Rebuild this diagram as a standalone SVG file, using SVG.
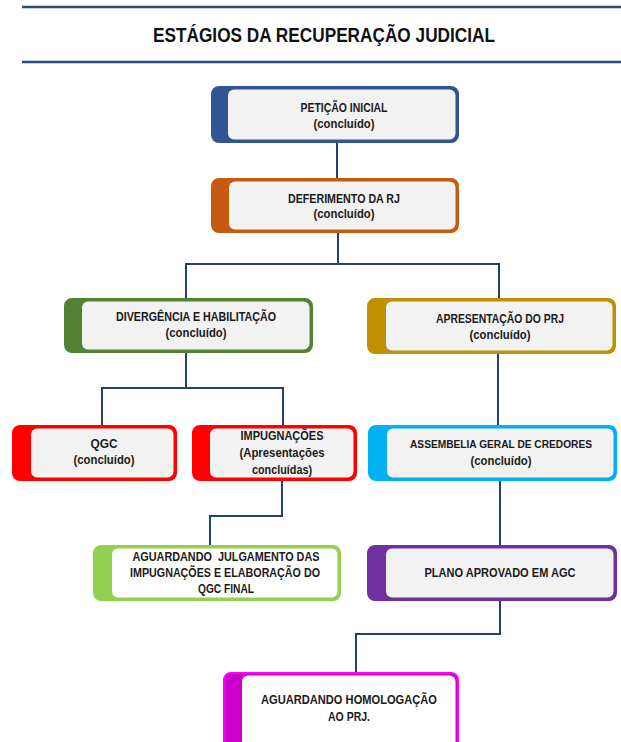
<svg xmlns="http://www.w3.org/2000/svg" width="621" height="742" viewBox="0 0 621 742">
<defs>
<style>
.bg{fill:#ffffff}
.rule{stroke:#2e4a7d;stroke-width:2.5;fill:none}
.conn{stroke:#243f73;stroke-width:2;fill:none}
.inner{fill:#f2f2f2}
.innerw{fill:#ffffff}
text{font-family:"Liberation Sans",Arial,sans-serif;font-weight:bold;fill:#1a1a1a;text-anchor:middle}
.t{font-size:12px}
.ts{font-size:11.5px}
.title{font-size:20px;fill:#111}
</style>
</defs>
<rect class="bg" x="0" y="0" width="621" height="742"/>
<g id="header">
<line class="rule" x1="22" y1="7" x2="621" y2="7"/>
<line class="rule" x1="22" y1="62" x2="621" y2="62"/>
<text class="title" x="324" y="42" textLength="342" lengthAdjust="spacingAndGlyphs">ESTÁGIOS DA RECUPERAÇÃO JUDICIAL</text>
</g>
<g id="connectors">
<path class="conn" d="M337 142 V179"/>
<path class="conn" d="M338 232 V264 M186 299 V264 H499 V299"/>
<path class="conn" d="M186 352 V388 M102 426 V388 H283 V426"/>
<path class="conn" d="M498 353 V426"/>
<path class="conn" d="M282 480 V516 H210 V546"/>
<path class="conn" d="M500 480 V546"/>
<path class="conn" d="M500 600 V634 H356 V673"/>
</g>
<g id="n-peticao">
<rect x="212" y="87" width="246" height="55" rx="7" fill="#2f5597" stroke="#2f5597" stroke-width="2"/>
<rect class="inner" x="228" y="89.5" width="227.5" height="50" rx="6"/>
<text class="t" x="344" y="112" textLength="87" lengthAdjust="spacingAndGlyphs">PETIÇÃO INICIAL</text>
<text class="t" x="344" y="128" textLength="61" lengthAdjust="spacingAndGlyphs">(concluído)</text>
</g>
<g id="n-deferimento">
<rect x="212" y="179" width="246" height="53" rx="7" fill="#c55a11" stroke="#c55a11" stroke-width="2"/>
<rect class="inner" x="229" y="181.5" width="226.5" height="48" rx="6"/>
<text class="t" x="344" y="203" textLength="112" lengthAdjust="spacingAndGlyphs">DEFERIMENTO DA RJ</text>
<text class="t" x="344" y="218" textLength="61" lengthAdjust="spacingAndGlyphs">(concluído)</text>
</g>
<g id="n-divergencia">
<rect x="65" y="299" width="247" height="53" rx="7" fill="#548235" stroke="#548235" stroke-width="2"/>
<rect class="inner" x="82" y="301.5" width="227.5" height="48" rx="6"/>
<text class="t" x="196" y="321" textLength="160" lengthAdjust="spacingAndGlyphs">DIVERGÊNCIA E HABILITAÇÃO</text>
<text class="t" x="196" y="337" textLength="61" lengthAdjust="spacingAndGlyphs">(concluído)</text>
</g>
<g id="n-apresentacao">
<rect x="368" y="299" width="247" height="54" rx="7" fill="#bf9000" stroke="#bf9000" stroke-width="2"/>
<rect class="inner" x="386" y="301.5" width="226.5" height="49" rx="6"/>
<text class="t" x="500" y="323" textLength="128" lengthAdjust="spacingAndGlyphs">APRESENTAÇÃO DO PRJ</text>
<text class="t" x="500" y="339" textLength="61" lengthAdjust="spacingAndGlyphs">(concluído)</text>
</g>
<g id="n-qgc">
<rect x="13" y="426" width="163" height="54" rx="7" fill="#ff0000" stroke="#ff0000" stroke-width="2"/>
<rect class="inner" x="31" y="428.5" width="142.5" height="49" rx="6"/>
<text class="t" x="104" y="448" textLength="27" lengthAdjust="spacingAndGlyphs">QGC</text>
<text class="t" x="104" y="464" textLength="61" lengthAdjust="spacingAndGlyphs">(concluído)</text>
</g>
<g id="n-impugnacoes">
<rect x="193" y="426" width="163" height="54" rx="7" fill="#ff0000" stroke="#ff0000" stroke-width="2"/>
<rect class="inner" x="210" y="428.5" width="143.5" height="49" rx="6"/>
<text class="t" x="282" y="440" textLength="83" lengthAdjust="spacingAndGlyphs">IMPUGNAÇÕES</text>
<text class="t" x="282" y="457" textLength="85" lengthAdjust="spacingAndGlyphs">(Apresentações</text>
<text class="t" x="282" y="474" textLength="60" lengthAdjust="spacingAndGlyphs">concluídas)</text>
</g>
<g id="n-assembleia">
<rect x="369" y="426" width="247" height="54" rx="7" fill="#00b0f0" stroke="#00b0f0" stroke-width="2"/>
<rect class="inner" x="387" y="428.5" width="226.5" height="49" rx="6"/>
<text class="ts" x="501" y="448" textLength="182" lengthAdjust="spacingAndGlyphs">ASSEMBELIA GERAL DE CREDORES</text>
<text class="t" x="501" y="465" textLength="61" lengthAdjust="spacingAndGlyphs">(concluído)</text>
</g>
<g id="n-aguardando-julgamento">
<rect x="94" y="546" width="246" height="54" rx="7" fill="#92d050" stroke="#92d050" stroke-width="2"/>
<rect class="innerw" x="112" y="548.5" width="225.5" height="49" rx="6"/>
<text class="t" x="226" y="561" textLength="187" lengthAdjust="spacingAndGlyphs" xml:space="preserve">AGUARDANDO  JULGAMENTO DAS</text>
<text class="t" x="225" y="577" textLength="190" lengthAdjust="spacingAndGlyphs">IMPUGNAÇÕES E ELABORAÇÃO DO</text>
<text class="t" x="226" y="593" textLength="56" lengthAdjust="spacingAndGlyphs">QGC FINAL</text>
</g>
<g id="n-plano">
<rect x="368" y="546" width="248" height="54" rx="7" fill="#7030a0" stroke="#7030a0" stroke-width="2"/>
<rect class="inner" x="386" y="548.5" width="227.5" height="49" rx="6"/>
<text class="t" x="500" y="577" textLength="151" lengthAdjust="spacingAndGlyphs">PLANO APROVADO EM AGC</text>
</g>
<g id="n-homologacao">
<rect x="224" y="673" width="234" height="76" rx="7" fill="#cc00cc" stroke="#ff00ff" stroke-width="2"/>
<rect class="innerw" x="242" y="675.5" width="213.5" height="80" rx="6"/>
<text class="t" x="349" y="704" textLength="176" lengthAdjust="spacingAndGlyphs">AGUARDANDO HOMOLOGAÇÃO</text>
<text class="t" x="349" y="721" textLength="42" lengthAdjust="spacingAndGlyphs">AO PRJ.</text>
</g>
</svg>
